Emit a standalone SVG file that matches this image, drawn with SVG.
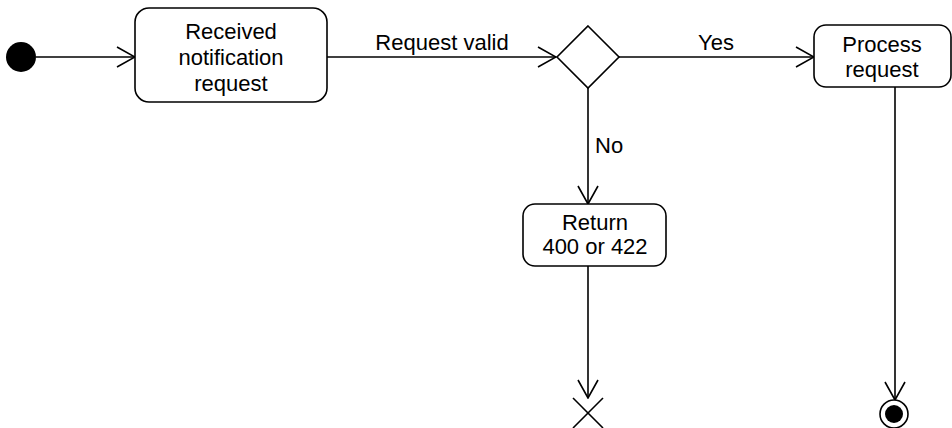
<svg xmlns="http://www.w3.org/2000/svg" width="952" height="428" viewBox="0 0 952 428">
  <style>
    .node { fill: #ffffff; stroke: #000000; stroke-width: 1.6; }
    .edge { fill: none; stroke: #000000; stroke-width: 1.6; }
    .label { font-family: "Liberation Sans", Arial, sans-serif; font-size: 22px; fill: #000000; }
    .mid { text-anchor: middle; }
  </style>
  <defs>
    <marker id="open" viewBox="0 0 20 22" refX="19" refY="11" markerWidth="20" markerHeight="22" markerUnits="userSpaceOnUse" orient="auto">
      <path d="M1,1 L19,11 L1,21" fill="none" stroke="#000000" stroke-width="1.6"/>
    </marker>
  </defs>

  <g id="connectors">
    <line class="edge" x1="36" y1="57" x2="135" y2="57" marker-end="url(#open)"/>
    <line class="edge" x1="327" y1="57" x2="556" y2="57" marker-end="url(#open)"/>
    <line class="edge" x1="618" y1="57" x2="814" y2="57" marker-end="url(#open)"/>
    <line class="edge" x1="588" y1="88" x2="588" y2="204" marker-end="url(#open)"/>
    <line class="edge" x1="588" y1="266" x2="588" y2="398" marker-end="url(#open)"/>
    <line class="edge" x1="895" y1="87" x2="895" y2="400" marker-end="url(#open)"/>
    <text class="label mid" x="442" y="50">Request valid</text>
    <text class="label mid" x="716" y="50">Yes</text>
    <text class="label" x="595" y="153">No</text>
  </g>

  <g id="start">
    <circle cx="21" cy="57" r="15" fill="#000000"/>
  </g>

  <g id="received">
    <rect class="node" x="135" y="8" width="192" height="94" rx="14"/>
    <text class="label mid" x="231" y="39">Received</text>
    <text class="label mid" x="231" y="65">notification</text>
    <text class="label mid" x="231" y="91">request</text>
  </g>

  <g id="decision">
    <polygon class="node" points="588,26 619,57 588,88 557,57"/>
  </g>

  <g id="process">
    <rect class="node" x="814" y="25" width="137" height="62" rx="12"/>
    <text class="label mid" x="882" y="52">Process</text>
    <text class="label mid" x="882" y="77">request</text>
  </g>

  <g id="return">
    <rect class="node" x="523" y="204" width="143" height="62" rx="12"/>
    <text class="label mid" x="595" y="230">Return</text>
    <text class="label mid" x="595" y="254">400 or 422</text>
  </g>

  <g id="flow-final">
    <line class="edge" x1="573" y1="398" x2="603" y2="428"/>
    <line class="edge" x1="603" y1="398" x2="573" y2="428"/>
  </g>

  <g id="end">
    <circle cx="894" cy="414" r="14" fill="#ffffff" stroke="#000000" stroke-width="1.6"/>
    <circle cx="894" cy="414" r="9" fill="#000000"/>
  </g>
</svg>
